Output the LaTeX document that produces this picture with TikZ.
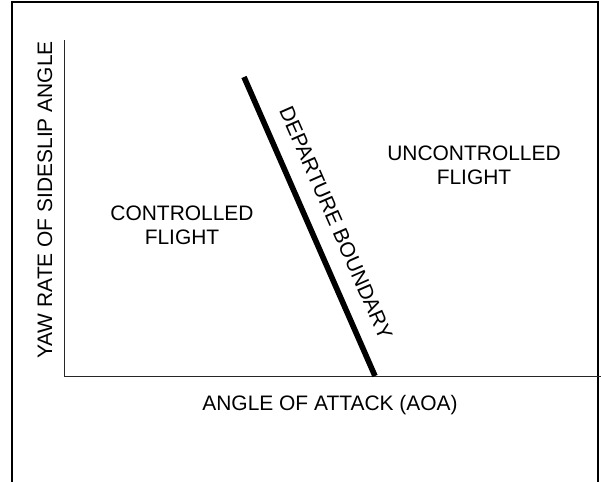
\documentclass[tikz,border=0pt]{standalone}
\usepackage{fontspec}
\setmainfont{Liberation Sans}
\begin{document}
\begin{tikzpicture}[every node/.style={font=\fontsize{14.9}{17}\selectfont, align=center}]
    % Lienzo (mismas proporciones que la figura)
    \useasboundingbox (-1.6,-2.625) rectangle (13.425,9.4);
    % Marco abierto por abajo
    \draw[line width=1.4pt] (-1.3,-2.7) -- (-1.3,9.35) -- (13.35,9.35) -- (13.35,-2.7);
    % Ejes
    \coordinate (O) at (0,0);
    \coordinate (Ytop) at (0,8.4);
    \coordinate (Xend) at (13.425,0);
    \draw[line width=0.7pt, black!85] (Ytop) -- (O) -- (Xend);
    % Frontera de salida (recta gruesa hasta el eje x)
    \coordinate (Btop) at (4.5,7.475);
    \coordinate (Bbot) at (7.775,0);
    \draw[line width=4pt] (Btop) -- (Bbot);
    \node[rotate=-66.3] (bnd) at (6.8,3.825) {DEPARTURE BOUNDARY};
    % Regiones
    \node (ctrl) at (2.95,3.775) {CONTROLLED\\FLIGHT};
    \node (unctrl) at (10.25,5.275) {UNCONTROLLED\\FLIGHT};
    % Rotulos de los ejes
    \node (xlab) at (6.65,-0.725) {ANGLE OF ATTACK (AOA)};
    \node[rotate=90] (ylab) at (-0.475,4.4) {YAW RATE OF SIDESLIP ANGLE};
\end{tikzpicture}
\end{document}
